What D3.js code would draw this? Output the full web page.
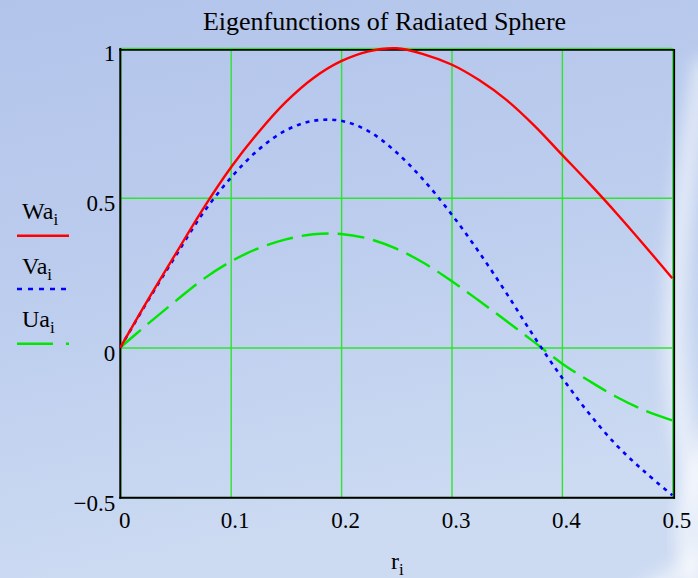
<!DOCTYPE html>
<html>
<head>
<meta charset="utf-8">
<script src="https://cdn.jsdelivr.net/npm/d3@7"></script>
<style>
  body { margin: 0; background: #c0d0ee; }
  svg { display: block; }
</style>
</head>
<body>
<div id="chart"></div>
<script>
// values
const rValues = [0, 0.025, 0.05, 0.075, 0.1, 0.125, 0.15, 0.175, 0.2, 0.225, 0.25,
  0.275, 0.3, 0.325, 0.35, 0.375, 0.4, 0.425, 0.45, 0.475, 0.5];
const waValues = [0, 0.159, 0.312, 0.463, 0.600, 0.718, 0.820, 0.900, 0.956, 0.989, 0.999,
  0.979, 0.945, 0.893, 0.826, 0.741, 0.644, 0.547, 0.446, 0.340, 0.231];
const vaValues = [0, 0.156, 0.305, 0.449, 0.566, 0.660, 0.725, 0.757, 0.757, 0.722, 0.652,
  0.558, 0.445, 0.318, 0.180, 0.035, -0.100, -0.222, -0.328, -0.415, -0.493];
const uaValues = [0, 0.079, 0.155, 0.228, 0.287, 0.331, 0.361, 0.378, 0.379, 0.363, 0.330,
  0.282, 0.222, 0.156, 0.088, 0.018, -0.053, -0.112, -0.166, -0.210, -0.243];

const xTickValues = [0, 0.1, 0.2, 0.3, 0.4, 0.5];
const xTickLabels = ['0', '0.1', '0.2', '0.3', '0.4', '0.5'];
const yTickValues = [-0.5, 0, 0.5, 1];
const yTickLabels = ['\u22120.5', '0', '0.5', '1'];

const seriesNames = ['Wa', 'Va', 'Ua'];
const seriesColors = ['#ff0000', '#0000ff', '#00e600'];

let w = 698;
let h = 578;
let plotLeft = 120.3, plotRight = 672.3, plotTop = 48, plotBottom = 497.3;
let font = '"Liberation Serif", "Times New Roman", serif';

let svg = d3.select('#chart').
append('svg').
attr('width', w).
attr('height', h);

// background
let defs = svg.append('defs');
let bg = defs.append('linearGradient').
attr('id', 'bg').
attr('x1', 0).attr('y1', 0).attr('x2', 0.25).attr('y2', 1);
bg.append('stop').attr('offset', 0).attr('stop-color', '#b2c4ea');
bg.append('stop').attr('offset', 0.5).attr('stop-color', '#bccdee');
bg.append('stop').attr('offset', 1).attr('stop-color', '#cddbf2');
defs.append('filter').attr('id', 'blur').
attr('x', -0.5).attr('y', -0.5).attr('width', 2).attr('height', 2).
append('feGaussianBlur').attr('stdDeviation', 8);

svg.append('rect').
attr('width', w).
attr('height', h).
attr('fill', 'url(#bg)');

svg.append('path').
attr('d', 'M705,60 C680,200 660,350 690,460 S700,560 640,600').
attr('fill', 'none').
attr('stroke', '#ffffff').
attr('stroke-width', 22).
attr('opacity', 0.55).
attr('filter', 'url(#blur)');
svg.append('path').
attr('d', 'M720,420 C690,480 670,530 700,590').
attr('fill', 'none').
attr('stroke', '#ffffff').
attr('stroke-width', 18).
attr('opacity', 0.6).
attr('filter', 'url(#blur)');

let xScale = d3.scaleLinear().
domain([0, 0.5]).
range([plotLeft, plotRight]);

let yScale = d3.scaleLinear().
domain([-0.5, 1]).
range([plotBottom, plotTop]);

// gridlines and tick labels
let xAxis = d3.axisBottom(xScale).
tickValues(xTickValues).
tickFormat((d, i) => xTickLabels[i]).
tickSize(-(plotBottom - plotTop)).
tickPadding(14);

let yAxis = d3.axisLeft(yScale).
tickValues(yTickValues).
tickFormat((d, i) => yTickLabels[i]).
tickSize(-(plotRight - plotLeft)).
tickPadding(5);

let gx = svg.append('g').
attr('transform', 'translate(0,' + plotBottom + ')').
call(xAxis);

let gy = svg.append('g').
attr('transform', 'translate(' + plotLeft + ',0)').
call(yAxis);

[gx, gy].forEach(g => {
  g.select('.domain').remove();
  g.selectAll('.tick line').
  attr('stroke', '#2ee42e').
  attr('stroke-width', 1.4);
  g.selectAll('.tick text').
  attr('fill', '#000').
  style('font-family', font).
  style('font-size', '23px');
});
gx.selectAll('.tick text').attr('dx', 4);
gy.selectAll('.tick text').attr('dy', '0.56em');

// frame
svg.append('line').attr('x1', plotLeft).attr('x2', plotLeft).attr('y1', plotTop).attr('y2', plotBottom + 1.5).
attr('stroke', '#000').attr('stroke-width', 2);
svg.append('line').attr('x1', plotLeft - 1).attr('x2', 675).attr('y1', plotBottom + 0.4).attr('y2', plotBottom + 0.4).
attr('stroke', '#000').attr('stroke-width', 2);
svg.append('line').attr('x1', plotLeft - 1).attr('x2', 675).attr('y1', 49.8).attr('y2', 49.8).
attr('stroke', '#000').attr('stroke-width', 1.8);
svg.append('line').attr('x1', 674.2).attr('x2', 674.2).attr('y1', 49).attr('y2', plotBottom + 1.4).
attr('stroke', '#000').attr('stroke-width', 1.8);

// curves
let line = d3.line().
x((d, i) => xScale(rValues[i])).
y(d => yScale(d)).
curve(d3.curveCatmullRom);

svg.append('path').
datum(uaValues).
attr('d', line).
attr('fill', 'none').
attr('stroke', seriesColors[2]).
attr('stroke-width', 2.4).
attr('stroke-dasharray', '27,9');

svg.append('path').
datum(vaValues).
attr('d', line).
attr('fill', 'none').
attr('stroke', seriesColors[1]).
attr('stroke-width', 2.6).
attr('stroke-dasharray', '4,5');

svg.append('path').
datum(waValues).
attr('d', line).
attr('fill', 'none').
attr('stroke', seriesColors[0]).
attr('stroke-width', 2.4);

// title
svg.append('text').
text('Eigenfunctions of Radiated Sphere').
attr('x', 384.5).
attr('y', 30).
attr('text-anchor', 'middle').
style('font-family', font).
style('font-size', '26px');

// x axis label
let xl = svg.append('text').
attr('x', 391).
attr('y', 569).
style('font-family', font).
style('font-size', '24px');
xl.append('tspan').text('r');
xl.append('tspan').text('i').attr('dy', 6).style('font-size', '17px');

// legend
let legendTextY = [219, 274, 327];
let legendLineY = [235.7, 289, 343.7];
let legendDash = [null, '5,6', '36,13'];
seriesNames.forEach((name, i) => {
  let t = svg.append('text').
  attr('x', 22).
  attr('y', legendTextY[i]).
  style('font-family', font).
  style('font-size', '24px');
  t.append('tspan').text(name);
  t.append('tspan').text('i').attr('dy', 6).style('font-size', '17px');

  svg.append('line').
  attr('x1', 17).
  attr('x2', 69).
  attr('y1', legendLineY[i]).
  attr('y2', legendLineY[i]).
  attr('stroke', seriesColors[i]).
  attr('stroke-width', 2.4).
  attr('stroke-dasharray', legendDash[i]);
});
</script>
</body>
</html>
